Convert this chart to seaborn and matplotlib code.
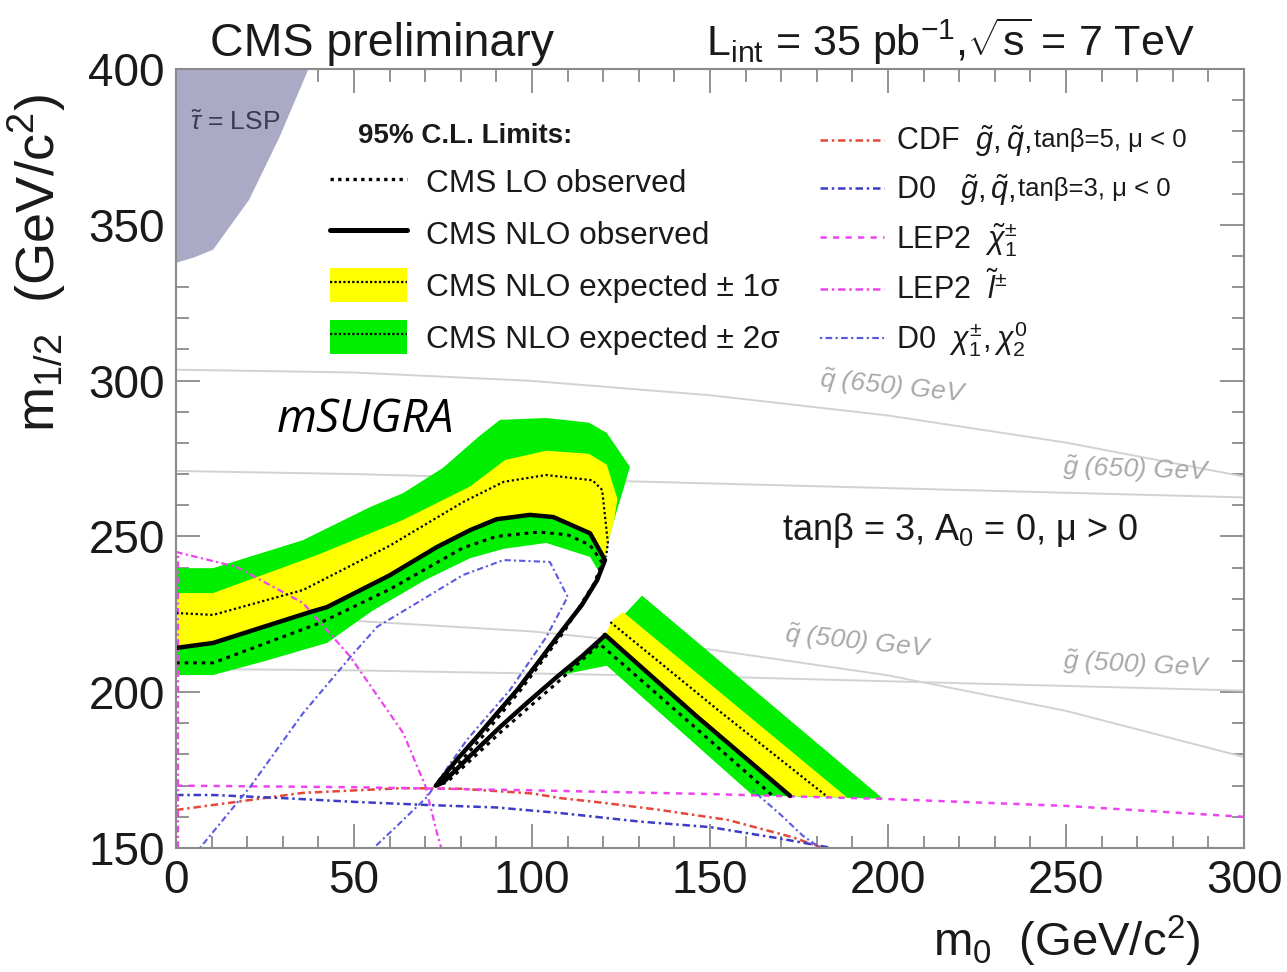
import numpy as np
import pandas as pd
import matplotlib
matplotlib.use("Agg")
import matplotlib.pyplot as plt
import seaborn as sns
from matplotlib.lines import Line2D
from matplotlib.patches import Patch
from matplotlib.ticker import MultipleLocator

sns.set_theme(style="ticks")
plt.rcParams['font.family'] = ['Liberation Sans', 'DejaVu Sans']
plt.rcParams['mathtext.fontset'] = 'custom'
plt.rcParams['mathtext.rm'] = 'Liberation Sans'
plt.rcParams['mathtext.it'] = 'Liberation Sans:italic'
plt.rcParams['mathtext.bf'] = 'Liberation Sans:bold'

# ---------------- data (m0, m1/2 in GeV/c^2) ----------------
# stau = LSP region
lsp_x = [0, 37.2, 29, 20.5, 10.4, 5, 0]
lsp_y = [400, 400, 378, 358, 342, 339.5, 337.8]

# iso-mass contours
iso_x = [0, 50, 100, 150, 200, 250, 300]
sq650_y = [303.5, 302.6, 299.9, 295.3, 288.8, 280.1, 269.2]
gl650_y = [271.0, 270.0, 268.5, 267.0, 265.5, 264.0, 262.5]
sq500_y = [224.1, 222.9, 219.5, 213.7, 205.4, 194.0, 179.2]
gl500_y = [207.5, 207.0, 206.0, 205.0, 203.5, 202.0, 200.5]

# +-2 sigma band (upper part)
g2_up_x = [0, 10.4, 35.7, 54.5, 63.8, 75, 85, 91, 104, 116, 121, 127.5, 125.6, 123.5, 121.3,
           120.5, 118.5, 116.3, 104, 92, 82.6, 70, 55, 42.4, 25, 10.4, 0]
g2_up_y = [239.8, 239.8, 248.8, 259.4, 263.9, 272, 282, 287.4, 288, 286.5, 283.2, 272.3, 264.9, 257, 248,
           242.4, 239.2, 243.4, 247.9, 246, 243, 236, 226, 215.8, 210, 205.5, 205.5]
# +-1 sigma band (upper part)
g1_up_x = [0, 10.4, 39.6, 63.8, 82.6, 92.4, 104, 116, 121, 124, 123, 121.3, 120.5,
           116.3, 106, 99.4, 90, 82.6, 73.3, 60, 42.4, 37.6, 10.4, 0]
g1_up_y = [231.8, 231.8, 244, 255.3, 266, 274.5, 277.5, 276.5, 273, 262, 255, 248, 242.4,
           251, 256.2, 256.9, 255.5, 252, 246.6, 237.5, 227.3, 225.7, 215.8, 214.2]
# lower-right band pieces
g2_lo_x = [108, 120, 130.9, 198.6, 162, 121, 108]
g2_lo_y = [205.5, 217.7, 231, 165.8, 166.9, 208.5, 205.5]
g1_lo_x = [120.5, 122.5, 125.6, 188.5, 172.5]
g1_lo_y = [218.4, 223, 225.7, 166.2, 166.7]

# CMS NLO observed
nlo_x = [0, 10.4, 37.6, 42.4, 60, 73.3, 82.6, 90, 99.4, 106, 116.3, 120.5,
         118.3, 114, 107.9, 102, 95.8, 90, 84.5, 79, 74.2, 73,
         75, 83, 91, 99, 107, 114, 120, 120.5, 146, 172.5]
nlo_y = [214.2, 215.8, 225.7, 227.3, 237.5, 246.6, 252, 255.5, 256.9, 256.2, 251, 242.4,
         236, 228, 219, 210, 200.7, 193, 185.6, 178.5, 171.8, 170,
         171, 180, 188.8, 197, 204.9, 211.5, 217.7, 218.4, 192.5, 166.7]
# CMS LO observed
lo_x = [0, 10.4, 40.4, 60, 80.6, 90, 102, 110, 116.3, 119.7,
        117.5, 109, 97, 85.5, 75, 74,
        76, 91.5, 107.5, 119, 143, 167.7]
lo_y = [209.4, 209.4, 222.2, 233, 246.3, 250, 251.4, 250.5, 247.2, 241.5,
        235, 219.5, 201, 185, 171.5, 170.5,
        171, 187.5, 203.5, 215.5, 191.5, 166.7]
# CMS NLO expected (two pieces)
exp_x = [0, 10.4, 35.7, 60, 80.6, 92, 104, 117, 119.7, 121.3, 120.8, 122, 152, 183]
exp_y = [225.4, 224.8, 232.8, 247, 261, 267.5, 269.7, 268, 264.9, 247.9, 243.5, 222.5, 194.5, 166.4]
exp_seg = [0] * 11 + [1] * 3

# Tevatron / LEP limits
cdf_x = [0, 17, 35.7, 63.8, 80, 100, 108, 120, 136, 155, 173, 181]
cdf_y = [162.2, 164.8, 167.7, 169.2, 169, 167.5, 166, 164.5, 162.2, 159, 153.5, 150.3]
d0sq_x = [0, 10.4, 30, 50, 70.5, 90, 108, 130, 150, 168.8, 182.8, 184]
d0sq_y = [167, 167, 166, 164.8, 163.8, 163, 161.2, 158.5, 156.7, 153.2, 150.3, 150]
lepch_x = [0, 50, 100, 150, 200, 250, 300]
lepch_y = [170, 169.5, 168.5, 167.3, 165.7, 163.5, 160]
lepsl_x = [0.5, 0.5, 0, 17, 35.7, 49, 63.8, 70, 73.3, 74.5]
lepsl_y = [150, 245, 245, 240.2, 228.6, 211.3, 186.9, 170, 154.8, 150]
lepsl_seg = [0, 0, 1, 1, 1, 1, 1, 1, 1, 1]
d0ch_x = [6.7, 20.8, 35.7, 49, 56.5, 65.7, 80.6, 92, 105, 110, 104, 93.8, 81.7, 70.5, 62, 55.5,
          162, 170, 176, 181]
d0ch_y = [150, 169.6, 193.3, 211.3, 221, 227.3, 237.6, 242.4, 241.8, 230.6, 217.7, 200.7, 184.7, 166.4, 157, 150,
          168.5, 160.5, 154, 150]
d0ch_seg = [0] * 16 + [1] * 4

# ---------------- style ----------------
YELLOW = '#ffff00'
GREEN = '#00ee00'
LSP_C = '#aaaac6'
GRAY = '#d2d2d2'
CDF_C = '#e5473a'
D0_C = '#3c3cc8'
LEP_C = '#ee44ee'
D0CH_C = '#5a5ae0'
TXT = '#1a1a1a'

fig = plt.figure(figsize=(12.87, 9.72), dpi=100)
ax = fig.add_axes([0.1368, 0.1276, 0.8298, 0.8014])
ax.set_facecolor('white')


def draw(xs, ys, seg=None, z=3, **kw):
    df = pd.DataFrame({'x': xs, 'y': ys, 'seg': seg if seg is not None else [0] * len(xs)})
    sns.lineplot(data=df, x='x', y='y', units='seg', estimator=None, sort=False,
                 ax=ax, legend=False, zorder=z, **kw)


# LSP region
ax.fill(lsp_x, lsp_y, color=LSP_C, lw=0, zorder=1)

# iso-mass contours
for yy in (sq650_y, gl650_y, sq500_y, gl500_y):
    draw(iso_x, yy, z=1, color=GRAY, lw=1.4)

# bands
ax.fill(g2_up_x, g2_up_y, color=GREEN, lw=0, zorder=2)
ax.fill(g2_lo_x, g2_lo_y, color=GREEN, lw=0, zorder=2)
ax.fill(g1_up_x, g1_up_y, color=YELLOW, lw=0, zorder=2.1)
ax.fill(g1_lo_x, g1_lo_y, color=YELLOW, lw=0, zorder=2.1)

# external limits
draw(cdf_x, cdf_y, z=3, color=CDF_C, lw=1.8, ls=(0, (3, 1.5, 1, 1.5)))
draw(d0sq_x, d0sq_y, z=3, color=D0_C, lw=1.8, ls=(0, (3, 1.5, 1, 1.5)))
draw(lepch_x, lepch_y, z=3, color=LEP_C, lw=1.8, ls=(0, (2.5, 2.5)))
draw(lepsl_x, lepsl_y, seg=lepsl_seg, z=3, color=LEP_C, lw=1.6, ls=(0, (3, 1.5, 1, 1.5)))
draw(d0ch_x, d0ch_y, seg=d0ch_seg, z=3, color=D0CH_C, lw=1.5, ls=(0, (1, 1.5, 3, 1.5)))

# CMS limits
draw(exp_x, exp_y, seg=exp_seg, z=4, color='black', lw=1.6, ls=(0, (1, 1.2)))
draw(lo_x, lo_y, z=4, color='black', lw=2.2, ls=(0, (1.2, 1.6)))
draw(nlo_x, nlo_y, z=5, color='black', lw=3.2)

# axes
ax.set_xlim(0, 300)
ax.set_ylim(150, 400)
ax.xaxis.set_major_locator(MultipleLocator(50))
ax.xaxis.set_minor_locator(MultipleLocator(10))
ax.yaxis.set_major_locator(MultipleLocator(50))
ax.yaxis.set_minor_locator(MultipleLocator(10))
ax.tick_params(which='both', direction='in', top=True, right=True, color='#8a8a8a', width=1.3)
ax.tick_params(which='major', length=17, labelsize=33, labelcolor=TXT, pad=8)
ax.tick_params(which='minor', length=9)
for s in ax.spines.values():
    s.set_color('#8a8a8a')
    s.set_linewidth(1.5)
    s.set_zorder(6)

ax.set_xlabel(r'm$_{0}$  (GeV/c$^{2}$)', loc='right', fontsize=34, color=TXT)
ax.set_ylabel(r'm$_{1/2}$  (GeV/c$^{2}$)', loc='top', fontsize=39, color=TXT)
ax.xaxis.set_label_coords(0.959, -0.084)
ax.yaxis.set_label_coords(-0.101, 0.967)

# titles
fig.text(210 / 1287, 1 - 56 / 972, 'CMS preliminary', fontsize=33.5, color=TXT, va='baseline')
fig.text(0.9285, 1 - 56 / 972, r'L$_{\rm int}$ = 35 pb$^{{-}1}$,$\sqrt{\rm s}$ = 7 TeV',
         fontsize=31, color=TXT, va='baseline', ha='right')

# annotations
ax.text(3.9, 380.4, r'$\tilde{\tau}$ = LSP', fontsize=19, color='#3a3a55', va='baseline')
ax.text(28.4, 283.5, 'mSUGRA', fontsize=33, style='italic', family=['Open Sans', 'DejaVu Sans'],
        color='black', va='baseline')
ax.text(170.2, 248.8, 'tanβ = 3, A$_{0}$ = 0, μ > 0', fontsize=26, color=TXT, va='baseline')
iso_kw = dict(fontsize=19, style='italic', color='#a8a8a8', va='baseline')
ax.text(180.3, 293.0, r'$\tilde{q}$ (650) GeV', rotation=-6, **iso_kw)
ax.text(249, 268.0, r'$\tilde{g}$ (650) GeV', rotation=-2, **iso_kw)
ax.text(170.5, 211.0, r'$\tilde{q}$ (500) GeV', rotation=-6, **iso_kw)
ax.text(249, 205.0, r'$\tilde{g}$ (500) GeV', rotation=-3, **iso_kw)

# left legend
ax.text(0.170, 0.905, '95% C.L. Limits:', transform=ax.transAxes, fontsize=20,
        fontweight='bold', color=TXT, va='baseline')
h_lo = Line2D([], [], color='black', lw=2.4, ls=(0, (1.0, 1.3)))
h_nlo = Line2D([], [], color='black', lw=3.6)
h_e1 = (Patch(facecolor=YELLOW, edgecolor='none'), Line2D([], [], color='black', lw=1.6, ls=(0, (1, 1))))
h_e2 = (Patch(facecolor=GREEN, edgecolor='none'), Line2D([], [], color='black', lw=1.6, ls=(0, (1, 1))))
leg1 = ax.legend([h_lo, h_nlo, h_e1, h_e2],
                 ['CMS LO observed', 'CMS NLO observed',
                  'CMS NLO expected ± 1σ', 'CMS NLO expected ± 2σ'],
                 loc='upper left', bbox_to_anchor=(0.144, 0.877), frameon=False, fontsize=22.8,
                 handlelength=2.45, handleheight=1.25, labelspacing=0.55, handletextpad=0.6,
                 borderpad=0, borderaxespad=0, labelcolor=TXT)
ax.add_artist(leg1)

# right legend
r_handles = [Line2D([], [], color=CDF_C, lw=1.8, ls=(0, (3, 1.5, 1, 1.5))),
             Line2D([], [], color=D0_C, lw=1.8, ls=(0, (3, 1.5, 1, 1.5))),
             Line2D([], [], color=LEP_C, lw=1.8, ls=(0, (2.5, 2.5))),
             Line2D([], [], color=LEP_C, lw=1.8, ls=(0, (3, 1.5, 1, 1.5))),
             Line2D([], [], color=D0CH_C, lw=1.6, ls=(0, (1, 1.5, 3, 1.5)))]
r_labels = [r'CDF  $\tilde{g}, \tilde{q}$,', r'D0   $\tilde{g}, \tilde{q}$,',
            r'LEP2  $\tilde{\chi}^{\pm}_{1}$', r'LEP2  $\tilde{l}^{\pm}$',
            r'D0  $\chi^{\pm}_{1}, \chi^{0}_{2}$']
leg2 = ax.legend(r_handles, r_labels, loc='upper left', bbox_to_anchor=(0.603, 0.930),
                 frameon=False, fontsize=22, handlelength=2.1, labelspacing=0.42,
                 handletextpad=0.4, borderpad=0, borderaxespad=0, labelcolor=TXT)
fig.text(1034 / 1287, 1 - 147 / 972, 'tanβ=5, μ < 0', fontsize=18.5, color=TXT, va='baseline')
fig.text(1018 / 1287, 1 - 196 / 972, 'tanβ=3, μ < 0', fontsize=18.5, color=TXT, va='baseline')

fig.savefig('out.png', dpi=100, facecolor='white')
